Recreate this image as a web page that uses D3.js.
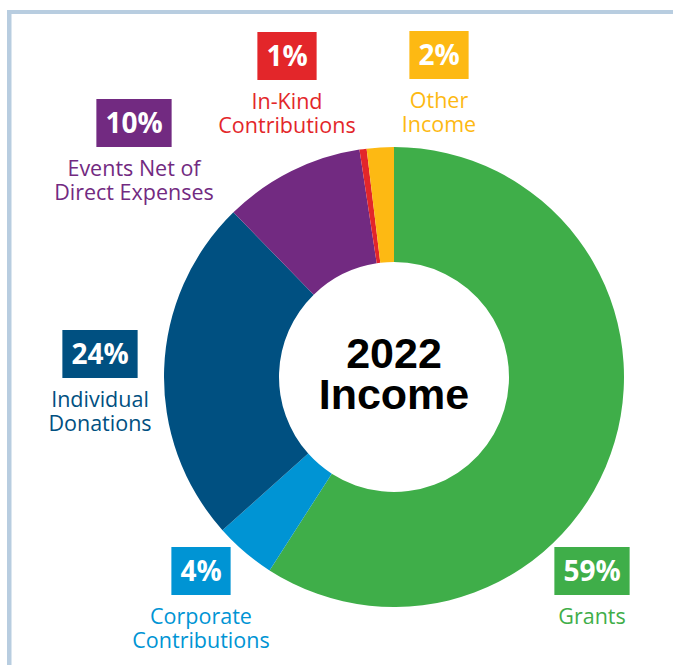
<!DOCTYPE html>
<html>
<head>
<meta charset="utf-8">
<script src="https://cdn.jsdelivr.net/npm/d3@7"></script>
<style>
  html, body { margin: 0; padding: 0; background: #fff; }
</style>
</head>
<body>
<div id="chart"></div>
<script>
// slices, clockwise from 12 o'clock
const categories = ['Grants', 'Corporate Contributions', 'Individual Donations',
  'Events Net of Direct Expenses', 'In-Kind Contributions', 'Other Income'];
const values = [59.1, 4.3, 24.3, 9.9, 0.5, 1.9];
const pctLabels = ['59%', '4%', '24%', '10%', '1%', '2%'];
const labelLines = [
  ['Grants'],
  ['Corporate', 'Contributions'],
  ['Individual', 'Donations'],
  ['Events Net of', 'Direct Expenses'],
  ['In-Kind', 'Contributions'],
  ['Other', 'Income']
];
const colors = ['#3fae49', '#0094d4', '#005081', '#722a81', '#e3262a', '#fdb913'];
const titleLines = ['2022', 'Income'];

// label anchor (centre x, top of box)
const labelPos = [[592, 547], [201, 547], [100, 330], [134, 99], [287, 32], [439, 31]];

const width = 673, height = 665;
const cx = 394, cy = 377;
const outerR = 230, innerR = 115;

const svg = d3.select('#chart').append('svg')
  .attr('width', width)
  .attr('height', height);

// frame lines top / left
svg.append('rect').attr('x', 7).attr('y', 10).attr('width', width - 7).attr('height', 4).attr('fill', '#b8cde0');
svg.append('rect').attr('x', 7).attr('y', 10).attr('width', 4.5).attr('height', height - 10).attr('fill', '#b8cde0');

const pie = d3.pie().sort(null).value(d => d);
const arc = d3.arc().innerRadius(innerR).outerRadius(outerR);

const g = svg.append('g').attr('transform', `translate(${cx},${cy})`);
g.selectAll('path')
  .data(pie(values))
  .enter()
  .append('path')
  .attr('d', arc)
  .attr('fill', (d, i) => colors[i]);

// centre title, one text element with two lines
const title = svg.append('text')
  .attr('text-anchor', 'middle')
  .style('font-family', '"Liberation Sans", Arial, sans-serif')
  .style('font-weight', 'bold')
  .style('font-size', '43px')
  .attr('fill', '#000');
title.selectAll('tspan')
  .data(titleLines)
  .enter()
  .append('tspan')
  .attr('x', cx)
  .attr('y', (d, i) => 368 + i * 41)
  .text(d => d);

// labels
const boxH = 48, padX = 9;
categories.forEach((c, i) => {
  const [x, y] = labelPos[i];
  const lg = svg.append('g');
  const rect = lg.append('rect').attr('y', y).attr('height', boxH).attr('fill', colors[i]);
  const t = lg.append('text')
    .attr('x', x)
    .attr('y', y + boxH / 2 + 10)
    .attr('text-anchor', 'middle')
    .style('font-family', '"Open Sans", sans-serif')
    .style('font-weight', 'bold')
    .style('font-size', '28px')
    .attr('fill', '#fff')
    .text(pctLabels[i]);
  const w = t.node().getComputedTextLength() + padX * 2;
  rect.attr('x', x - w / 2).attr('width', w);

  const lbl = lg.append('text')
    .attr('text-anchor', 'middle')
    .style('font-family', '"Open Sans", sans-serif')
    .style('font-size', '21.5px')
    .attr('fill', colors[i]);
  lbl.selectAll('tspan')
    .data(labelLines[i])
    .enter()
    .append('tspan')
    .attr('x', x)
    .attr('y', (d, j) => y + 77 + j * 23.5)
    .text(d => d);
});
</script>
</body>
</html>
